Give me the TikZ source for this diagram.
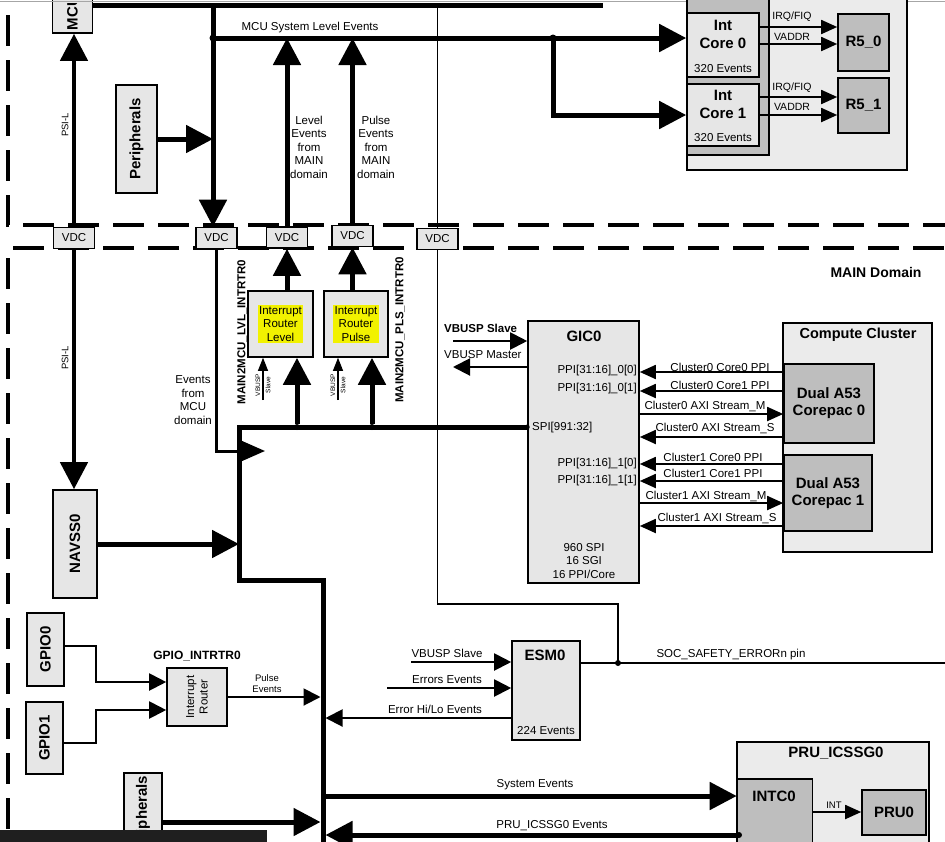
\documentclass[tikz,border=0pt]{standalone}
\usepackage{fontspec}
\setmainfont{Liberation Sans}
\usetikzlibrary{arrows.meta}
\definecolor{lgray}{HTML}{E6E6E6}
\definecolor{ogray}{HTML}{EBEBEB}
\definecolor{dgray}{HTML}{BEBEBE}
\definecolor{hlyel}{HTML}{F2F200}
\newcommand\lblf{\fontsize{11.5}{13.5}\selectfont}
\newcommand\bbf{\fontsize{15}{17}\selectfont\bfseries}
\newcommand\mbf{\fontsize{12}{14}\selectfont\bfseries}
\newcommand\smf{\fontsize{9.5}{11}\selectfont}
\newcommand\tnf{\fontsize{6.5}{7.5}\selectfont}
\begin{document}
\begin{tikzpicture}[x=1pt,y=-1pt,
  box/.style={draw=black,line width=1.6pt,fill=lgray,inner sep=0pt},
  dbox/.style={box,fill=dgray},
  obox/.style={box,fill=ogray},
  lbl/.style={inner sep=0pt,font=\lblf},
  blbl/.style={inner sep=0pt,font=\bbf},
  mlbl/.style={inner sep=0pt,font=\mbf},
  vdcbox/.style={box,minimum width=41pt,minimum height=21pt,font=\lblf},
  bigarr/.style={line width=5pt,-{Triangle[width=27pt,length=27pt]}},
  medarr/.style={line width=2pt,-{Triangle[width=17pt,length=17pt]}},
  smlarr/.style={line width=1.8pt,-{Triangle[width=14pt,length=16pt]}},
  tinyarr/.style={line width=1.2pt,-{Triangle[width=10pt,length=13pt]}},
  dashln/.style={line width=4pt,dash pattern=on 31pt off 14pt},
  thinln/.style={line width=1.4pt},
  jdot/.style={circle,fill=black,inner sep=0pt,minimum size=7pt}]
\useasboundingbox (0,0) rectangle (945,841);
\clip (0,0) rectangle (945,841);
\fill[white] (0,0) rectangle (945,841);

% domain borders
\draw[dashln] (8,15) -- (8,225) -- (945,225);
\draw[dashln] (13,248) -- (945,248);
\draw[dashln] (8,258) -- (8,845);

% ---------- MCU domain boxes ----------
\node[box,minimum width=40pt,minimum height=44pt] (mcu) at (72.5,11) {};
\begin{scope}
\clip (52,3) rectangle (93,34);
\node[blbl,rotate=90] (mcut) at (72.5,13) {MCU};
\end{scope}
\draw[line width=1pt,black!35] (0,1.5) -- (945,1.5);
\node[box,minimum width=41pt,minimum height=108pt] (periph) at (136.5,139) {};
\node[blbl,rotate=90] (periphtxt) at (periph) {Peripherals};

\node[obox,minimum width=220pt,minimum height=175pt] (icout) at (797,82.5) {};
\node[dbox,minimum width=82pt,minimum height=160pt] (icback) at (728,75) {};
\node[box,minimum width=72pt,minimum height=64pt] (ic0) at (723,45) {};
\node[box,minimum width=72pt,minimum height=62pt] (ic1) at (723,115) {};
\node[blbl] (ic0a) at (723,25) {Int};
\node[blbl] (ic0b) at (723,43) {Core 0};
\node[lbl] (ic0c) at (723,69) {320 Events};
\node[blbl] (ic1a) at (723,95) {Int};
\node[blbl] (ic1b) at (723,113) {Core 1};
\node[lbl] (ic1c) at (723,138) {320 Events};
\node[dbox,minimum width=51pt,minimum height=57pt,font=\bbf] (r50) at (863.5,42.5) {R5\_0};
\node[dbox,minimum width=51pt,minimum height=55pt,font=\bbf] (r51) at (863.5,105.5) {R5\_1};

% VDC bridges
\node[vdcbox] (vdc1) at (74,238) {VDC};
\node[vdcbox] (vdc2) at (216.5,238) {VDC};
\node[vdcbox] (vdc3) at (287,237.5) {VDC};
\node[vdcbox] (vdc4) at (352.5,236) {VDC};
\node[vdcbox] (vdc5) at (437.5,239) {VDC};

% top bar and MCU events
\coordinate (tb1) at (92,5.5);
\coordinate (tb2) at (603,5.5);
\draw[line width=5pt] (mcu.east |- tb1) -- (tb2);
\coordinate (v2top) at (213,5);
\draw[bigarr] (v2top) -- (v2top |- vdc2.north);
\coordinate (mslj) at (213,38);
\coordinate (brj) at (553,38);
\draw[bigarr] (mslj) -- (ic0.west |- mslj);
\draw[bigarr] (brj) |- (ic1.west);
\node[jdot] (dm1) at (mslj) {};
\node[jdot] (dm2) at (brj) {};
\node[lbl] (mslbl) at (310,28) {MCU System Level Events};
\draw[bigarr] (periph.east) -- (periph.east -| mslj);

\draw[bigarr,line width=4.5pt] (vdc1.north) -- (vdc1.north |- mcu.south);
\node[inner sep=0pt,font=\smf,rotate=90] (psi1) at (65,125) {PSI-L};

\draw[bigarr] (vdc3.north) -- (vdc3.north |- mslj);
\draw[bigarr] (vdc4.north) -- (vdc4.north |- mslj);
\node[lbl,align=center] (lvlev) at (309,147) {Level\\Events\\from\\MAIN\\domain};
\node[lbl,align=center] (plsev) at (376,147) {Pulse\\Events\\from\\MAIN\\domain};

% IRQ / VADDR
\coordinate (irq0) at (760,27);
\coordinate (vad0) at (760,44);
\coordinate (irq1) at (760,97);
\coordinate (vad1) at (760,115);
\draw[smlarr] (irq0) -- (irq0 -| r50.west);
\draw[smlarr] (vad0) -- (vad0 -| r50.west);
\draw[smlarr] (irq1) -- (irq1 -| r51.west);
\draw[smlarr] (vad1) -- (vad1 -| r51.west);
\node[inner sep=0pt,font=\fontsize{10.5}{12}\selectfont] (irql0) at (792,17) {IRQ/FIQ};
\node[inner sep=0pt,font=\fontsize{10.5}{12}\selectfont] (vadl0) at (792,37) {VADDR};
\node[inner sep=0pt,font=\fontsize{10.5}{12}\selectfont] (irql1) at (792,88) {IRQ/FIQ};
\node[inner sep=0pt,font=\fontsize{10.5}{12}\selectfont] (vadl1) at (792,107) {VADDR};

% thin line through VDC5
\coordinate (v5top) at (437.5,5);
\coordinate (socj) at (618,663);
\draw[thinln] (v5top) -- (v5top |- vdc5.north);
\draw[thinln] (vdc5.south) -- ++(0,353.5) -| (socj);

% ---------- MAIN domain ----------
\node[inner sep=0pt,font=\fontsize{14}{16}\selectfont\bfseries] (maind) at (876,272) {MAIN Domain};

\node[box,minimum width=65pt,minimum height=66pt] (rlvl) at (280.5,324) {};
\node[box,minimum width=64pt,minimum height=66pt] (rpls) at (356,324) {};
\node[lbl,fill=hlyel,inner sep=1.5pt,align=center] (rlvlt) at (rlvl) {Interrupt\\Router\\Level};
\node[lbl,fill=hlyel,inner sep=1.5pt,align=center] (rplst) at (rpls) {Interrupt\\Router\\Pulse};
\draw[bigarr] (rlvl.north -| vdc3.south) -- (vdc3.south);
\draw[bigarr] (rpls.north -| vdc4.south) -- (vdc4.south);
\node[mlbl,rotate=90,font=\fontsize{11.5}{13}\selectfont\bfseries] (lvlname) at (242,332) {MAIN2MCU\_LVL\_INTRTR0};
\node[mlbl,rotate=90,font=\fontsize{11.5}{13}\selectfont\bfseries] (plsname) at (400,330) {MAIN2MCU\_PLS\_INTRTR0};

\coordinate (vb1) at (263,400);
\coordinate (vb2) at (338,400);
\draw[tinyarr] (vb1) -- (vb1 |- rlvl.south);
\draw[tinyarr] (vb2) -- (vb2 |- rpls.south);
\node[inner sep=0pt,font=\tnf,rotate=90] (vb1a) at (258,385) {VBUSP};
\node[inner sep=0pt,font=\tnf,rotate=90] (vb1b) at (268,385) {Slave};
\node[inner sep=0pt,font=\tnf,rotate=90] (vb2a) at (333,385) {VBUSP};
\node[inner sep=0pt,font=\tnf,rotate=90] (vb2b) at (343,385) {Slave};

% NAVSS
\node[box,minimum width=44pt,minimum height=108pt] (navss) at (75,544) {};
\node[blbl,rotate=90] (navsst) at (navss) {NAVSS0};
\draw[bigarr,line width=4.5pt] (vdc1.south) -- (vdc1.south |- navss.north);
\node[inner sep=0pt,font=\smf,rotate=90] (psi2) at (65,358) {PSI-L};

% GIC0
\node[box,minimum width=111pt,minimum height=262pt] (gic) at (583.5,452) {};
\node[blbl] (gict) at (584,336) {GIC0};
\node[lbl,align=center] (gicb) at (584,561) {960 SPI\\16 SGI\\16 PPI/Core};
\node[lbl,anchor=west] (spi) at (532,428) {SPI[991:32]};
\node[lbl,anchor=east] (p00) at (637,371) {PPI[31:16]\_0[0]};
\node[lbl,anchor=east] (p01) at (637,389) {PPI[31:16]\_0[1]};
\node[lbl,anchor=east] (p10) at (637,464) {PPI[31:16]\_1[0]};
\node[lbl,anchor=east] (p11) at (637,481) {PPI[31:16]\_1[1]};

\coordinate (gvs) at (453,341);
\coordinate (gvm) at (453,367);
\draw[medarr] (gvs) -- (gvs -| gic.west);
\draw[medarr] (gvm -| gic.west) -- (gvm);
\node[lbl,font=\lblf\bfseries,anchor=west] (gvsl) at (444,328) {VBUSP Slave};
\node[lbl,anchor=west] (gvml) at (444,355) {VBUSP Master};

% bus
\coordinate (busx) at (239,427);
\coordinate (bj1) at (239,580);
\coordinate (bj2) at (323,580);
\coordinate (bj3) at (323,845);
\coordinate (busl) at (320.5,0);
\coordinate (busr) at (325.5,0);
\draw[line width=5pt] (gic.west |- busx) -- (busx) -- (bj1) -- (bj2) -- (bj3);
\node[jdot,minimum size=6pt] (d1) at (297,427) {};
\node[jdot,minimum size=6pt] (d2) at (372,427) {};
\node[jdot,minimum size=5pt] (d3) at (gic.west |- busx) {};
\draw[bigarr] (d1) -- (d1 |- rlvl.south);
\draw[bigarr] (d2) -- (d2 |- rpls.south);

\coordinate (emc) at (216.5,451);
\coordinate (emce) at (265,451);
\draw[line width=3pt,-{Triangle[width=22pt,length=26pt]}] (vdc2.south) -- (emc) -- (emce);
\node[lbl,align=center] (emcl) at (193,400) {Events\\from\\MCU\\domain};
\draw[bigarr] (navss.east) -- (navss.east -| busx);

% Compute cluster
\node[obox,minimum width=149pt,minimum height=229pt] (cc) at (857.5,437.5) {};
\node[inner sep=0pt,font=\fontsize{14.5}{16}\selectfont\bfseries] (cct) at (858,335) {Compute Cluster};
\node[dbox,minimum width=90pt,minimum height=79pt,font=\bbf,align=center] (a53a) at (829,403.5) {Dual A53\\Corepac 0};
\node[dbox,minimum width=88pt,minimum height=76pt,font=\bbf,align=center] (a53b) at (828,493) {Dual A53\\Corepac 1};

\coordinate (c00) at (784,372);
\coordinate (c01) at (784,391);
\coordinate (c0m) at (640,414);
\coordinate (c0s) at (784,437);
\coordinate (c10) at (784,464);
\coordinate (c11) at (784,481);
\coordinate (c1m) at (640,503);
\coordinate (c1s) at (784,526);
\draw[smlarr] (c00) -- (c00 -| gic.east);
\draw[smlarr] (c01) -- (c01 -| gic.east);
\draw[smlarr] (c0m) -- (c0m -| a53a.west);
\draw[smlarr] (c0s) -- (c0s -| gic.east);
\draw[smlarr] (c10) -- (c10 -| gic.east);
\draw[smlarr] (c11) -- (c11 -| gic.east);
\draw[smlarr] (c1m) -- (c1m -| a53b.west);
\draw[smlarr] (c1s) -- (c1s -| gic.east);
\node[lbl] (lc00) at (720,367) {Cluster0 Core0 PPI};
\node[lbl] (lc01) at (720,385) {Cluster0 Core1 PPI};
\node[lbl] (lc0m) at (705,406) {Cluster0 AXI Stream\_M};
\node[lbl] (lc0s) at (715,428) {Cluster0 AXI Stream\_S};
\node[lbl] (lc10) at (713,457) {Cluster1 Core0 PPI};
\node[lbl] (lc11) at (713,473) {Cluster1 Core1 PPI};
\node[lbl] (lc1m) at (706,496) {Cluster1 AXI Stream\_M};
\node[lbl] (lc1s) at (717,518) {Cluster1 AXI Stream\_S};

% ESM0
\node[box,minimum width=68pt,minimum height=99pt] (esm) at (546,690.5) {};
\node[blbl] (esmt) at (545,655) {ESM0};
\node[lbl] (esmb) at (546,731) {224 Events};
\coordinate (ev) at (411,662);
\coordinate (ee) at (387,688);
\coordinate (eh) at (512,718);
\draw[medarr] (ev) -- (ev -| esm.west);
\draw[medarr] (ee) -- (ee -| esm.west);
\draw[medarr] (eh) -- (eh -| busr);
\node[lbl] (evl) at (447,653) {VBUSP Slave};
\node[lbl] (eel) at (447,680) {Errors Events};
\node[lbl] (ehl) at (435,709) {Error Hi/Lo Events};
\coordinate (socr) at (945,663);
\draw[line width=2pt] (esm.east |- socj) -- (socr);
\node[jdot,minimum size=6pt] (d4) at (socj) {};
\node[lbl] (socl) at (731,655) {SOC\_SAFETY\_ERRORn pin};

% GPIO
\node[box,minimum width=37pt,minimum height=73pt] (gpio0) at (45.5,649.5) {};
\node[blbl,rotate=90] (gpio0t) at (gpio0) {GPIO0};
\node[box,minimum width=37pt,minimum height=72pt] (gpio1) at (44.5,738) {};
\node[blbl,rotate=90] (gpio1t) at (gpio1) {GPIO1};
\node[box,minimum width=60pt,minimum height=58pt] (grtr) at (197,697) {};
\node[lbl,rotate=90,align=center] (grtrt) at (grtr) {Interrupt\\Router};
\node[mlbl] (grtrn) at (197,656) {GPIO\_INTRTR0};
\coordinate (g0a) at (64,646);
\coordinate (g0b) at (96,682);
\coordinate (g1a) at (63,743);
\coordinate (g1b) at (96,710);
\draw[medarr] (g0a) -| (g0b) -- (g0b -| grtr.west);
\draw[medarr] (g1a) -| (g1b) -- (g1b -| grtr.west);
\draw[medarr] (grtr.east) -- (grtr.east -| busl);
\node[inner sep=0pt,font=\smf,align=center] (gpl) at (267,684) {Pulse\\Events};

% bottom peripherals
\node[box,minimum width=38pt,minimum height=87pt] (periph2) at (143,816.5) {};
\node[blbl,rotate=90] (periph2t) at (periph2) {Peripherals};
\coordinate (p2) at (162,822);
\draw[bigarr] (p2) -- (p2 -| busl);
\fill[black!88] (0,830) rectangle (267,845);

% PRU_ICSSG0
\node[obox,minimum width=192pt,minimum height=120pt] (pru) at (833,802) {};
\node[blbl] (prut) at (836,753) {PRU\_ICSSG0};
\node[dbox,minimum width=75pt,minimum height=81pt] (intc) at (775,819.5) {};
\node[blbl] (intct) at (774,796) {INTC0};
\node[dbox,minimum width=64pt,minimum height=45pt,font=\bbf] (pru0) at (894,812.5) {PRU0};
\coordinate (it) at (812.5,812);
\draw[smlarr] (it) -- (it -| pru0.west);
\node[inner sep=0pt,font=\smf] (intl) at (834,805) {INT};
\coordinate (se) at (323,796);
\draw[bigarr] (se) -- (se -| intc.west);
\node[lbl] (sel) at (535,785) {System Events};
\coordinate (pe) at (739,835);
\draw[bigarr] (pe) -- (pe -| busr);
\node[jdot,minimum size=6pt] (d5) at (pe) {};
\node[lbl] (pel) at (552,826) {PRU\_ICSSG0 Events};
\end{tikzpicture}
\end{document}
